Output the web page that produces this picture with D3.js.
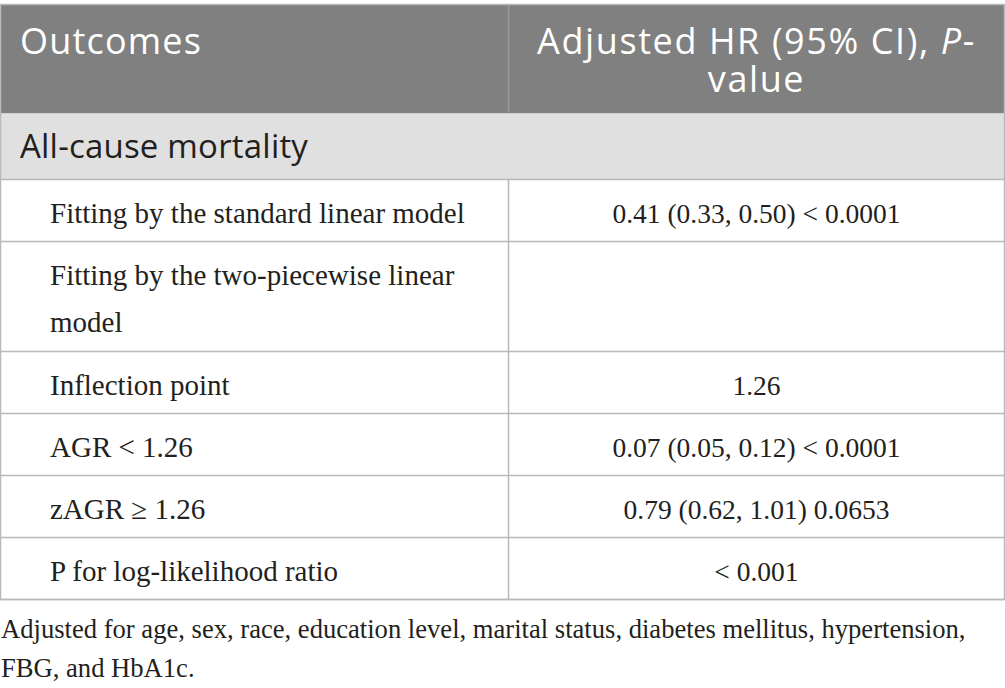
<!DOCTYPE html>
<html>
<head>
<meta charset="utf-8">
<script src="https://cdn.jsdelivr.net/npm/d3@7"></script>
<style>
  html, body { margin: 0; padding: 0; background: #fff; }
  svg { display: block; }
</style>
</head>
<body>
<svg id="table"></svg>
<script>
// Table content
const headerLeft = ['Outcomes'];
const headerRight = [
  [{ t: 'Adjusted HR (95% CI), ' }, { t: 'P', i: true }, { t: '-' }],
  [{ t: 'value' }],
];
const sectionTitle = 'All-cause mortality';
const rowLabels = [
  ['Fitting by the standard linear model'],
  ['Fitting by the two-piecewise linear', 'model'],
  ['Inflection point'],
  ['AGR < 1.26'],
  ['zAGR \u2265 1.26'],
  ['P for log-likelihood ratio'],
];
const rowValues = [
  '0.41 (0.33, 0.50) < 0.0001',
  '',
  '1.26',
  '0.07 (0.05, 0.12) < 0.0001',
  '0.79 (0.62, 1.01) 0.0653',
  '< 0.001',
];
const footnote = [
  'Adjusted for age, sex, race, education level, marital status, diabetes mellitus, hypertension,',
  'FBG, and HbA1c.',
];

const W = 1005, H = 688;
const SANS = '"Open Sans", "Noto Sans", sans-serif';
const SERIF = '"Liberation Serif", "Times New Roman", serif';
const INK = '#231f20';

const tblLeft = 0.5, tblRight = 1004.5, colX = 508.5;
const tblTop = 4.5, headH = 109, sectH = 66;
const lineH = 48, rowPad = 14;
const valX = (colX + tblRight) / 2;

const svg = d3.select('#table').attr('width', W).attr('height', H);

// Row geometry built from line counts
const rows = rowLabels.map((lines, i) => ({ lines, value: rowValues[i] }));
let yAcc = tblTop + headH + sectH;
rows.forEach(r => {
  r.y0 = yAcc;
  r.h = rowPad + lineH * r.lines.length;
  yAcc += r.h;
});
const tableBottom = yAcc;

// Header
svg.append('rect')
  .attr('x', tblLeft).attr('y', tblTop)
  .attr('width', tblRight - tblLeft).attr('height', headH)
  .attr('fill', '#808080');

svg.append('line')
  .attr('x1', colX).attr('x2', colX)
  .attr('y1', tblTop).attr('y2', tblTop + headH)
  .attr('stroke', '#9a9a9a').attr('stroke-width', 1.5);

svg.append('text')
  .attr('x', 20).attr('y', tblTop + 49)
  .attr('font-family', SANS).attr('font-size', 36)
  .attr('letter-spacing', 1.2)
  .attr('fill', '#fff')
  .text(headerLeft[0]);

const hr = svg.append('text')
  .attr('font-family', SANS).attr('font-size', 36)
  .attr('letter-spacing', 1.6)
  .attr('fill', '#fff')
  .attr('text-anchor', 'middle');

headerRight.forEach((line, li) => {
  line.forEach((seg, si) => {
    const ts = hr.append('tspan').text(seg.t);
    if (si === 0) ts.attr('x', valX).attr('y', tblTop + 49 + li * 38);
    if (seg.i) ts.attr('font-style', 'italic');
  });
});

// Section row
svg.append('rect')
  .attr('x', tblLeft).attr('y', tblTop + headH)
  .attr('width', tblRight - tblLeft).attr('height', sectH)
  .attr('fill', '#e1e0e1');

svg.append('text')
  .attr('x', 20).attr('y', tblTop + headH + 44)
  .attr('font-family', SANS).attr('font-size', 33)
  .attr('letter-spacing', 0.2)
  .attr('fill', INK)
  .text(sectionTitle);

// Body rows
const rowG = svg.append('g').selectAll('g.row')
  .data(rows)
  .enter()
  .append('g')
  .attr('class', 'row');

rowG.append('text')
  .attr('font-family', SERIF).attr('font-size', 29)
  .attr('fill', INK)
  .each(function(d) {
    const t = d3.select(this);
    d.lines.forEach((ln, k) => {
      t.append('tspan')
        .attr('x', 50)
        .attr('y', d.y0 + 43 + k * 47)
        .text(ln);
    });
  });

rowG.append('text')
  .attr('x', valX)
  .attr('y', d => d.y0 + 43)
  .attr('text-anchor', 'middle')
  .attr('font-family', SERIF).attr('font-size', 27.5)
  .attr('fill', INK)
  .text(d => d.value);

// Grid lines
const gridColor = '#b9b9b9';
const hLines = [tblTop + headH + sectH].concat(rows.map(r => r.y0 + r.h));
svg.append('g').selectAll('line')
  .data(hLines)
  .enter()
  .append('line')
  .attr('x1', tblLeft).attr('x2', tblRight)
  .attr('y1', d => d).attr('y2', d => d)
  .attr('stroke', gridColor).attr('stroke-width', 1.5);

svg.append('line')
  .attr('x1', colX).attr('x2', colX)
  .attr('y1', tblTop + headH + sectH).attr('y2', tableBottom)
  .attr('stroke', gridColor).attr('stroke-width', 1.5);

// Outer border
svg.append('rect')
  .attr('x', tblLeft).attr('y', tblTop)
  .attr('width', tblRight - tblLeft).attr('height', tableBottom - tblTop)
  .attr('fill', 'none')
  .attr('stroke', gridColor).attr('stroke-width', 1.5);

// Footnote
svg.append('g').selectAll('text')
  .data(footnote)
  .enter()
  .append('text')
  .attr('x', 1)
  .attr('y', (d, i) => tableBottom + 38 + i * 39)
  .attr('font-family', SERIF).attr('font-size', 26.6)
  .attr('fill', INK)
  .text(d => d);
</script>
</body>
</html>
